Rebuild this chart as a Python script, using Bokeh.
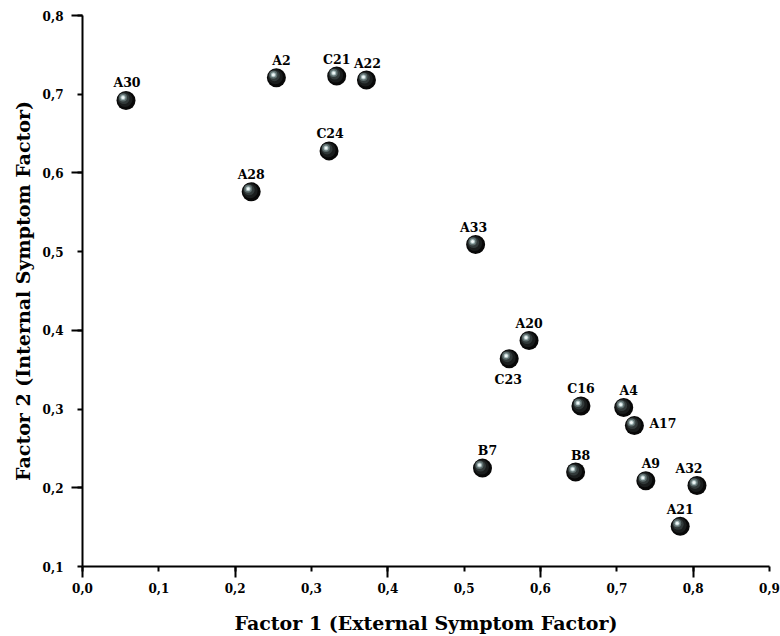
from bokeh.plotting import figure
from bokeh.models import ColumnDataSource, FixedTicker, Range1d
from bokeh.transform import dodge
from bokeh.core.properties import value
from bokeh.embed import file_html
from bokeh.resources import INLINE

# ---- data ----
labels = ["A30", "A2", "C21", "A22", "C24", "A28", "A33", "A20", "C23",
          "C16", "A4", "A17", "B7", "B8", "A9", "A32", "A21"]
factor1 = [0.057, 0.254, 0.333, 0.372, 0.323, 0.221, 0.515, 0.585, 0.559,
           0.653, 0.709, 0.723, 0.524, 0.646, 0.738, 0.805, 0.783]
factor2 = [0.692, 0.721, 0.723, 0.718, 0.628, 0.576, 0.509, 0.387, 0.364,
           0.304, 0.302, 0.279, 0.225, 0.220, 0.209, 0.203, 0.151]

x_ticks = [0.0, 0.1, 0.2, 0.3, 0.4, 0.5, 0.6, 0.7, 0.8, 0.9]
x_tick_labels = ["0,0", "0,1", "0,2", "0,3", "0,4", "0,5", "0,6", "0,7", "0,8", "0,9"]
y_ticks = [0.1, 0.2, 0.3, 0.4, 0.5, 0.6, 0.7, 0.8]
y_tick_labels = ["0,1", "0,2", "0,3", "0,4", "0,5", "0,6", "0,7", "0,8"]

# label placement (screen pixels) and alignment
lab_dx = [1, 5, 0, 1, 1, 0, -2, 0, -1, 0, 5, 15, 5, 5, 5, -8, 0]
lab_dy = [-18, -17, -17, -17, -17, -17, -17, -17, 21, -17, -17, -2, -18, -17, -17, -17, -17]
lab_align = ["center"] * 11 + ["left"] + ["center"] * 5

src = ColumnDataSource(dict(x=factor1, y=factor2, label=labels,
                            dx=lab_dx, dy=lab_dy, align=lab_align))

FONT = "DejaVu Serif"

p = figure(width=780, height=636, output_backend="svg", toolbar_location=None,
           x_range=Range1d(0.0, 0.9), y_range=Range1d(0.1, 0.8),
           min_border_left=82, min_border_right=11, min_border_top=15,
           min_border_bottom=69)
p.outline_line_color = None
p.xgrid.visible = False
p.ygrid.visible = False
p.background_fill_color = "white"
p.border_fill_color = "white"

# x axis
xa = p.xaxis[0]
xa.ticker = FixedTicker(ticks=x_ticks, minor_ticks=x_ticks[::2])
xa.major_label_overrides = dict(zip(x_ticks, x_tick_labels))
xa.axis_label = "Factor 1 (External Symptom Factor)"
# y axis
ya = p.yaxis[0]
ya.ticker = FixedTicker(ticks=y_ticks, minor_ticks=y_ticks[1::2])
ya.major_label_overrides = dict(zip(y_ticks, y_tick_labels))
ya.axis_label = "Factor 2 (Internal Symptom Factor)"

for ax in (xa, ya):
    ax.axis_line_width = 2
    ax.axis_line_color = "black"
    ax.major_tick_line_width = 2
    ax.minor_tick_line_width = 2
    ax.major_tick_line_color = "black"
    ax.minor_tick_line_color = "black"
    ax.major_tick_in = 0
    ax.minor_tick_in = 0
    ax.major_tick_out = 5
    ax.minor_tick_out = 11
    ax.major_label_text_font = FONT
    ax.major_label_text_font_style = "bold"
    ax.major_label_text_font_size = "12px"
    ax.major_label_text_color = "black"
    ax.axis_label_text_font = FONT
    ax.axis_label_text_font_style = "bold"
    ax.axis_label_text_font_size = "19px"
    ax.axis_label_text_color = "black"

xa.major_label_standoff = 5
xa.axis_label_standoff = 16
ya.major_label_standoff = 8
ya.axis_label_standoff = 6

# spheres: layered circles to mimic a shaded ball
px = 1.0 / 763.3
py = 1.0 / 788.0
layers = [
    (19, 0, 0, "#080808"),
    (15, -1, 1, "#1a1d1d"),
    (11, -2, 2, "#323a3a"),
    (8, -3, 3, "#5e6e6e"),
    (5, -3, 3, "#a5baba"),
    (3, -3, 3, "#f0f7f7"),
]
for size, ox, oy, col in layers:
    p.scatter(x=dodge("x", ox * px), y=dodge("y", oy * py), source=src,
              size=size, fill_color=col, line_color=None)

p.text(x="x", y="y", text="label", source=src, x_offset="dx", y_offset="dy",
       text_align="align", text_baseline="middle",
       text_font=value(FONT), text_font_style="bold", text_font_size="12.5px",
       text_color="black")

open("out.html", "w").write(file_html(p, INLINE))
